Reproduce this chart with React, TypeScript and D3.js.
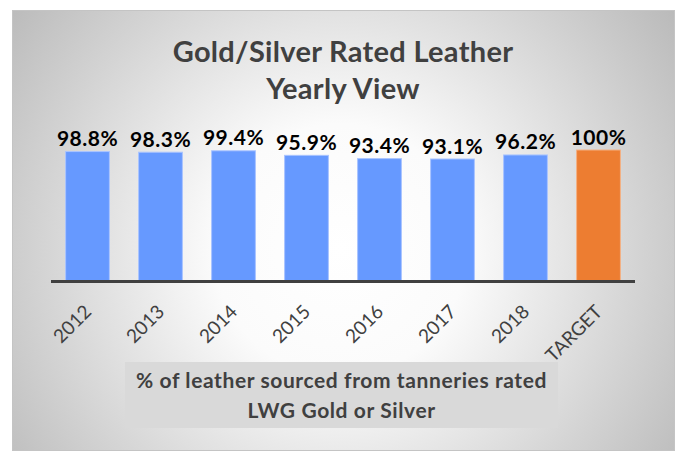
import React from 'react';
import * as d3 from 'd3';

const categories = ['2012', '2013', '2014', '2015', '2016', '2017', '2018', 'TARGET'];
const values = [98.8, 98.3, 99.4, 95.9, 93.4, 93.1, 96.2, 100];
const valueLabels = ['98.8%', '98.3%', '99.4%', '95.9%', '93.4%', '93.1%', '96.2%', '100%'];
const titleLines = ['Gold/Silver Rated Leather', 'Yearly View'];
const noteLines = ['% of leather sourced from tanneries rated', 'LWG Gold or Silver'];

const W = 678;
const H = 452;
const FONT = 'Lato, "Open Sans", sans-serif';

export default function App() {
  const x = d3.scaleBand().domain(categories).range([51, 635]).paddingInner(0.4).paddingOuter(0.2);
  const y = d3.scaleLinear().domain([0, 100]).range([280.5, 150]);

  return (
    <svg width={W} height={H} style={{ position: 'absolute', left: 0, top: 0 }}>
      <defs>
        <radialGradient id="bg" gradientUnits="userSpaceOnUse" cx={340} cy={250} r={420}>
          <stop offset="0" stopColor="#ffffff" />
          <stop offset="0.3" stopColor="#fbfbfb" />
          <stop offset="1" stopColor="#b8b8b8" />
        </radialGradient>
      </defs>
      <rect x={0} y={0} width={W} height={H} fill="#ffffff" />
      <rect x={12.5} y={10.5} width={662} height={440} fill="url(#bg)" stroke="#c4c4c4" />

      {titleLines.map((t, i) => (
        <text key={t} x={343} y={62 + i * 37} textAnchor="middle" fontFamily={FONT}
          fontWeight="bold" fontSize={29} letterSpacing={0.3} fill="#404040">{t}</text>
      ))}

      {categories.map((c, i) => {
        const last = c === 'TARGET';
        const cx = x(c)! + x.bandwidth() / 2;
        return (
          <g key={c}>
            <rect x={x(c)} y={y(values[i])} width={x.bandwidth()} height={y(0) - y(values[i])}
              fill={last ? '#ED7D31' : '#6699FF'} stroke={last ? '#F4B183' : '#A9C4FF'} strokeWidth={1} />
            <text x={cx} y={y(values[i]) - 5.5} textAnchor="middle"
              fontFamily={FONT} fontWeight="bold" fontSize={21} letterSpacing={0.5} fill="#000000">{valueLabels[i]}</text>
          </g>
        );
      })}

      {categories.map((c) => (
        <text key={c} transform={`translate(${x(c)! + x.bandwidth() / 2 + 5},${313}) rotate(-45)`}
          textAnchor="end" fontFamily={FONT} fontSize={19} fill="#404040">{c}</text>
      ))}

      <line x1={51} x2={635} y1={281.5} y2={281.5} stroke="#404040" strokeWidth={3} />

      <rect x={125} y={362} width={433} height={66} fill="#d9d9d9" />
      {noteLines.map((t, i) => (
        <text key={t} x={341.5} y={388 + i * 30} textAnchor="middle" fontFamily={FONT}
          fontWeight="bold" fontSize={21} letterSpacing={0.6} fill="#404040">{t}</text>
      ))}
    </svg>
  );
}
